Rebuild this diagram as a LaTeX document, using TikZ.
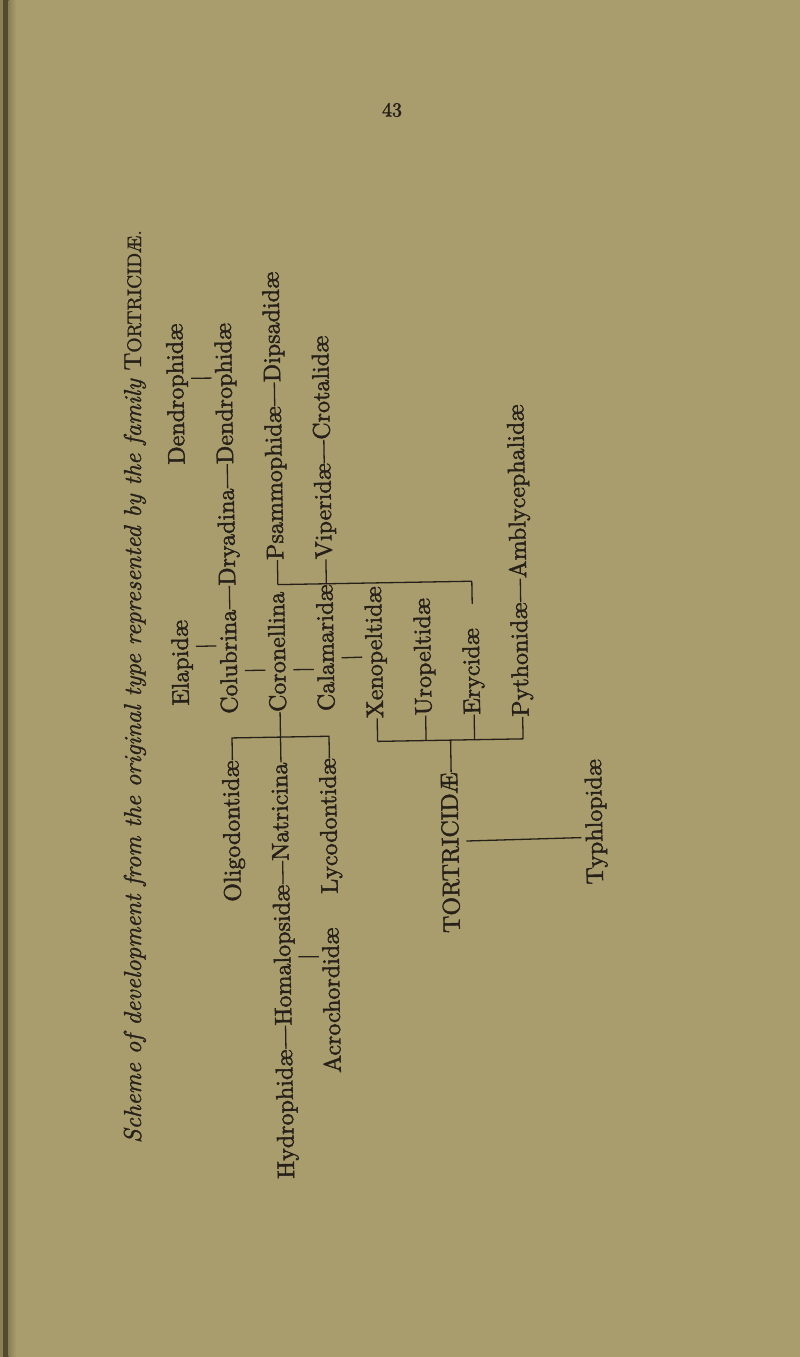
\documentclass[tikz,border=0pt]{standalone}
\usepackage{fontspec}
\newfontfamily\diagfont{lmroman10-regular.otf}[FakeBold=1.8]
\newfontfamily\titlefont{lmroman10-italic.otf}[FakeBold=1.2]
\newfontfamily\capsfont{lmroman10-regular.otf}[FakeBold=1.2]
\usetikzlibrary{calc}
\definecolor{paper}{RGB}{169,157,109}
\definecolor{ink}{RGB}{38,32,25}
\definecolor{edgedark}{RGB}{84,75,47}
\definecolor{edgemid}{RGB}{138,128,86}
\begin{document}
\begin{tikzpicture}[x=1pt,y=1pt,
  lbl/.style={transform shape, inner sep=0pt, text height=16.8pt, text depth=4.8pt,
    anchor=base west, text=ink, font=\diagfont\fontsize{24}{28}\selectfont},
  link/.style={draw=ink, line width=1.3pt},
  tick/.style={link, shorten <=3pt, shorten >=3pt}]
\fill[paper] (0,0) rectangle (800,1357);
\useasboundingbox (0,0) rectangle (800,1357);
\fill[edgemid] (0,0) rectangle (3,1357);
\fill[edgedark] (3,0) rectangle (8.5,1357);
\shade[left color=edgemid, right color=paper] (8.5,0) rectangle (16,1357);
\node[text=ink, inner sep=0pt, font=\diagfont\fontsize{20}{22}\selectfont] (pagenum) at (392,1247) {43};
\begin{scope}[shift={(800,0)}, rotate=90]
 \node[transform shape, inner sep=0pt, anchor=base east, text=ink,
   font=\titlefont\fontsize{24.5}{28}\selectfont] (title) at (1127,659)
   {Scheme of development from the original type represented by the family {\capsfont T\fontsize{19.6}{22}\selectfont ORTRICIDÆ.}};
 \begin{scope}[rotate around={1.0:(707,400)}]
  % row 1
  \node[lbl] (elap)  at (655,612)   {Elapidæ};
  \node[lbl] (dendA) at (896,612)   {Dendrophidæ};
  % row 2
  \node[lbl] (oligo) at (458,563.5)   {Oligodontidæ};
  \node[lbl] (colub) at (646,563.5)   {Colubrina};
  \node[lbl] (dryad) at (774.1,563.5) {Dryadina};
  \node[lbl] (dendB) at (895.8,563.5) {Dendrophidæ};
  % row 3
  \node[lbl] (hydro) at (180,515)   {Hydrophidæ};
  \node[lbl] (homal) at (333.4,515) {Homalopsidæ};
  \node[lbl] (natri) at (498.2,515) {Natricina};
  \node[lbl] (coron) at (647,515)   {Coronellina};
  \node[lbl] (psamm) at (799,515)   {Psammophidæ};
  \node[lbl] (dips)  at (976.8,515) {Dipsadidæ};
  % row 4
  \node[lbl] (acro)  at (285,466.5)   {Acrochordidæ};
  \node[lbl] (lyco)  at (464.3,466.5) {Lycodontidæ};
  \node[lbl] (calam) at (647,466.5)   {Calamaridæ};
  \node[lbl] (viper) at (799,466.5)   {Viperidæ};
  \node[lbl] (crot)  at (918.4,466.5) {Crotalidæ};
  % rows 5-8
  \node[lbl] (xeno)  at (639,418)     {Xenopeltidæ};
  \node[lbl] (uro)   at (641,369.5)   {Uropeltidæ};
  \node[lbl] (eryc)  at (641,321)     {Erycidæ};
  \node[lbl] (pyth)  at (638,272.5)   {Pythonidæ};
  \node[lbl] (ambl)  at (776.3,272.5) {Amblycephalidæ};
  \node[lbl] (tort)  at (423,345)     {TORTRICIDÆ};
  \node[lbl] (typh)  at (469,201)     {Typhlopidæ};
  % dashes within rows
  \draw[link] (colub.east) -- (dryad.west) (dryad.east) -- (dendB.west);
  \draw[link] (hydro.east) -- (homal.west) (homal.east) -- (natri.west)
              (natri.east) -- (coron.west) (psamm.east) -- (dips.west);
  \draw[link] (viper.east) -- (crot.west) (pyth.east) -- (ambl.west);
  % left bracket
  \coordinate (lbA) at (622,569.5);
  \coordinate (lbB) at (622,472.5);
  \draw[link] (oligo.east) -- (lbA) -- (lbB) -- (lyco.east);
  % right bracket
  \coordinate (rbA) at (616,424);
  \coordinate (rb6) at (616,375.5);
  \coordinate (rb7) at (616,327);
  \coordinate (rbB) at (616,278.5);
  \coordinate (rbT) at (616,351);
  \draw[link] (rbA) -- (rbB);
  \draw[link] (rbA) -- (xeno.west) (rb6) -- (uro.west) (rb7) -- (eryc.west)
              (rbB) -- (pyth.west) (tort.east) -- (rbT);
  % upper line
  \coordinate (ulA) at (774.5,521);
  \coordinate (ul4) at (774.5,472.5);
  \coordinate (ulB) at (774.5,327);
  \draw[link] (ulA) -- (ulB);
  \draw[link] (ulA) -- (psamm.west) (ul4) -- (viper.west);
  \draw[link, shorten <=24pt] (eryc.east) -- (ulB);
  % short cross links between rows
  \draw[tick] ($(elap.south west)!0.688!(elap.south east)$) -- ($(colub.north west)!0.653!(colub.north east)$);
  \draw[tick] ($(dendA.south west)!0.61!(dendA.south east)$) -- ($(dendB.north west)!0.61!(dendB.north east)$);
  \draw[tick] ($(colub.south west)!0.413!(colub.south east)$) -- ($(coron.north west)!0.35!(coron.north east)$);
  \draw[tick] ($(coron.south west)!0.35!(coron.south east)$) -- ($(calam.north west)!0.331!(calam.north east)$);
  \draw[tick] ($(calam.south west)!0.418!(calam.south east)$) -- ($(xeno.north west)!0.465!(xeno.north east)$);
  \draw[tick] ($(homal.south west)!0.487!(homal.south east)$) -- ($(acro.north west)!0.80!(acro.north east)$);
  \draw[link, shorten <=3pt, shorten >=4pt] ($(tort.south west)!0.57!(tort.south east)$) -- ($(typh.north west)!0.376!(typh.north east)$);
 \end{scope}
\end{scope}
\end{tikzpicture}
\end{document}
